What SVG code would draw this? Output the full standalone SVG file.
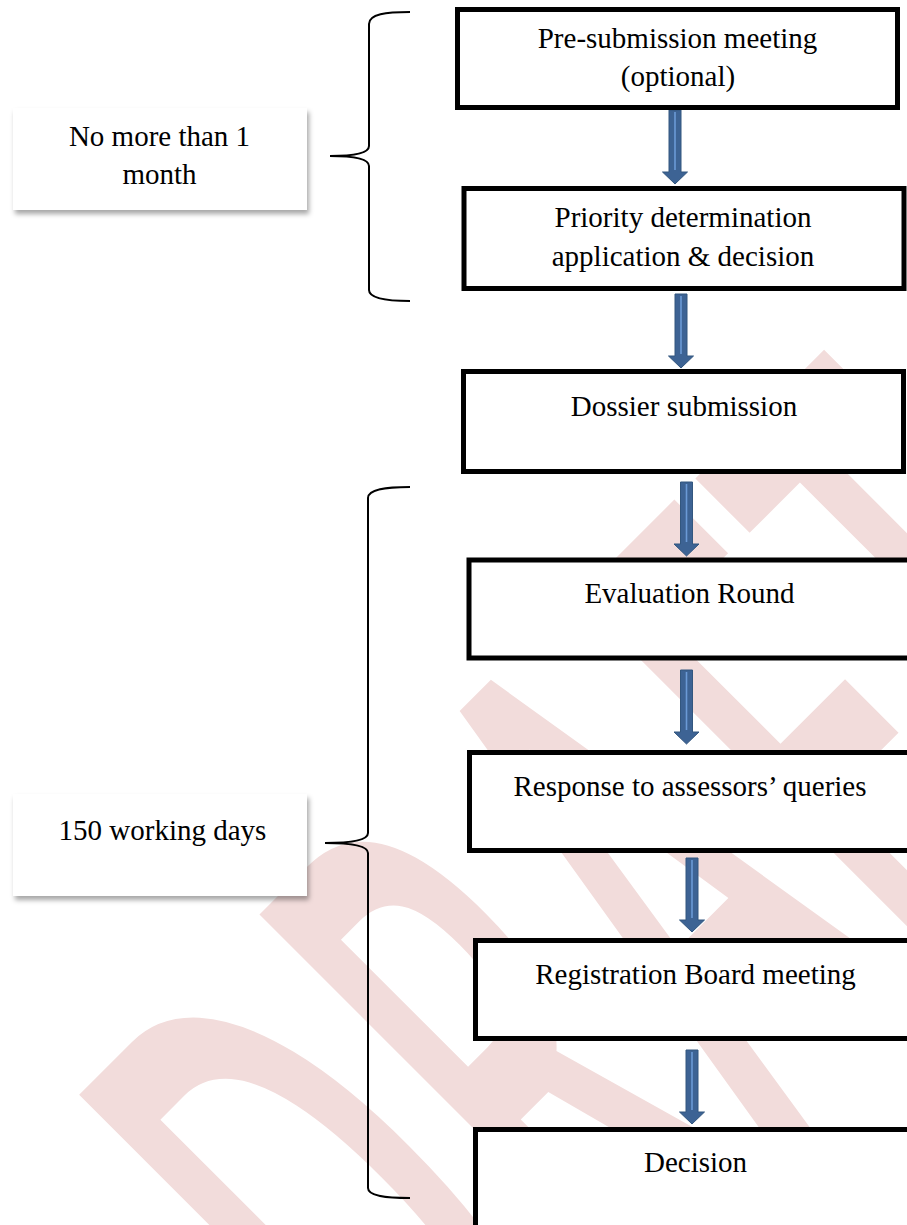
<svg xmlns="http://www.w3.org/2000/svg" xmlns:xlink="http://www.w3.org/1999/xlink" width="907" height="1225" viewBox="0 0 907 1225">
  <style>
    .t { font-family: "Liberation Serif", "Times New Roman", serif; font-size: 29px; text-anchor: middle; fill: #000; }
    .box { fill: #fff; stroke: #000; stroke-width: 5; }
    .label { fill: #fff; stroke: none; filter: url(#shadow); }
    .brace { fill: none; stroke: #000; stroke-width: 2; }
    .arrow polygon { fill: #3d6394; stroke: #33577f; stroke-width: 1; }
    .arrow line { stroke: #6b9ad6; stroke-width: 1.6; }
    .wm { font-family: "Open Sans", "Noto Sans", sans-serif; font-size: 400px; font-weight: 600; fill: #f2dcdb; }
  </style>
  <defs>
    <filter id="shadow" x="-10%" y="-10%" width="125%" height="135%">
      <feDropShadow dx="2" dy="4" stdDeviation="2.5" flood-color="#000" flood-opacity="0.35"/>
    </filter>
    <g id="arrowShape" class="arrow">
      <polygon points="-6,0 6,0 6,62 12.5,62 0,74 -12.5,62 -6,62"/>
      <line x1="0" y1="2" x2="0" y2="60"/>
    </g>
  </defs>
  <rect width="907" height="1225" fill="#fff"/>

  <g id="watermark" transform="translate(453.3,1498.4) rotate(-45) scale(0.85,1.926)">
    <text class="wm" x="-13 287 554 816 1044" y="0">DRAFT</text>
  </g>

  <g id="connectors">
    <use id="arrow1" href="#arrowShape" transform="translate(675,110)"/>
    <use id="arrow2" href="#arrowShape" transform="translate(681,294)"/>
    <use id="arrow3" href="#arrowShape" transform="translate(686.5,482)"/>
    <use id="arrow4" href="#arrowShape" transform="translate(686.5,670)"/>
    <use id="arrow5" href="#arrowShape" transform="translate(692,858)"/>
    <use id="arrow6" href="#arrowShape" transform="translate(692,1050)"/>
    <path id="brace1" class="brace" d="M410,12 C386,12 369,14 369,24 L369,146 C369,153 356,156 330,156 C356,156 369,159 369,166 L369,290 C369,298 386,301 410,301"/>
    <path id="brace2" class="brace" d="M410,487 C386,487 368,489 368,498 L368,833 C368,840 352,843 325,843 C352,843 368,846 368,853 L368,1188 C368,1196 386,1198 410,1198"/>
  </g>

  <g id="node-presub">
    <rect class="box" x="457.5" y="9.5" width="440" height="98"/>
    <text class="t" x="677.5" y="48">Pre-submission meeting</text>
    <text class="t" x="678" y="86">(optional)</text>
  </g>
  <g id="node-priority">
    <rect class="box" x="464" y="188.5" width="440" height="100"/>
    <text class="t" x="683" y="227">Priority determination</text>
    <text class="t" x="683" y="266">application &amp; decision</text>
  </g>
  <g id="node-dossier">
    <rect class="box" x="463.5" y="371.5" width="440" height="100"/>
    <text class="t" x="684" y="416">Dossier submission</text>
  </g>
  <g id="node-evaluation">
    <rect class="box" x="469" y="560" width="460" height="98"/>
    <text class="t" x="689.5" y="603">Evaluation Round</text>
  </g>
  <g id="node-response">
    <rect class="box" x="469.5" y="752.5" width="460" height="98"/>
    <text class="t" x="690" y="796">Response to assessors’ queries</text>
  </g>
  <g id="node-registration">
    <rect class="box" x="475.5" y="940.5" width="460" height="98"/>
    <text class="t" x="695.5" y="984">Registration Board meeting</text>
  </g>
  <g id="node-decision">
    <rect class="box" x="475.5" y="1129.5" width="460" height="160"/>
    <text class="t" x="695.5" y="1172">Decision</text>
  </g>

  <g id="label-month">
    <rect class="label" x="13" y="108" width="294" height="102"/>
    <text class="t" x="159.5" y="146">No more than 1</text>
    <text class="t" x="159.5" y="184">month</text>
  </g>
  <g id="label-days">
    <rect class="label" x="13" y="794" width="294" height="102"/>
    <text class="t" x="162.5" y="840">150 working days</text>
  </g>
</svg>
